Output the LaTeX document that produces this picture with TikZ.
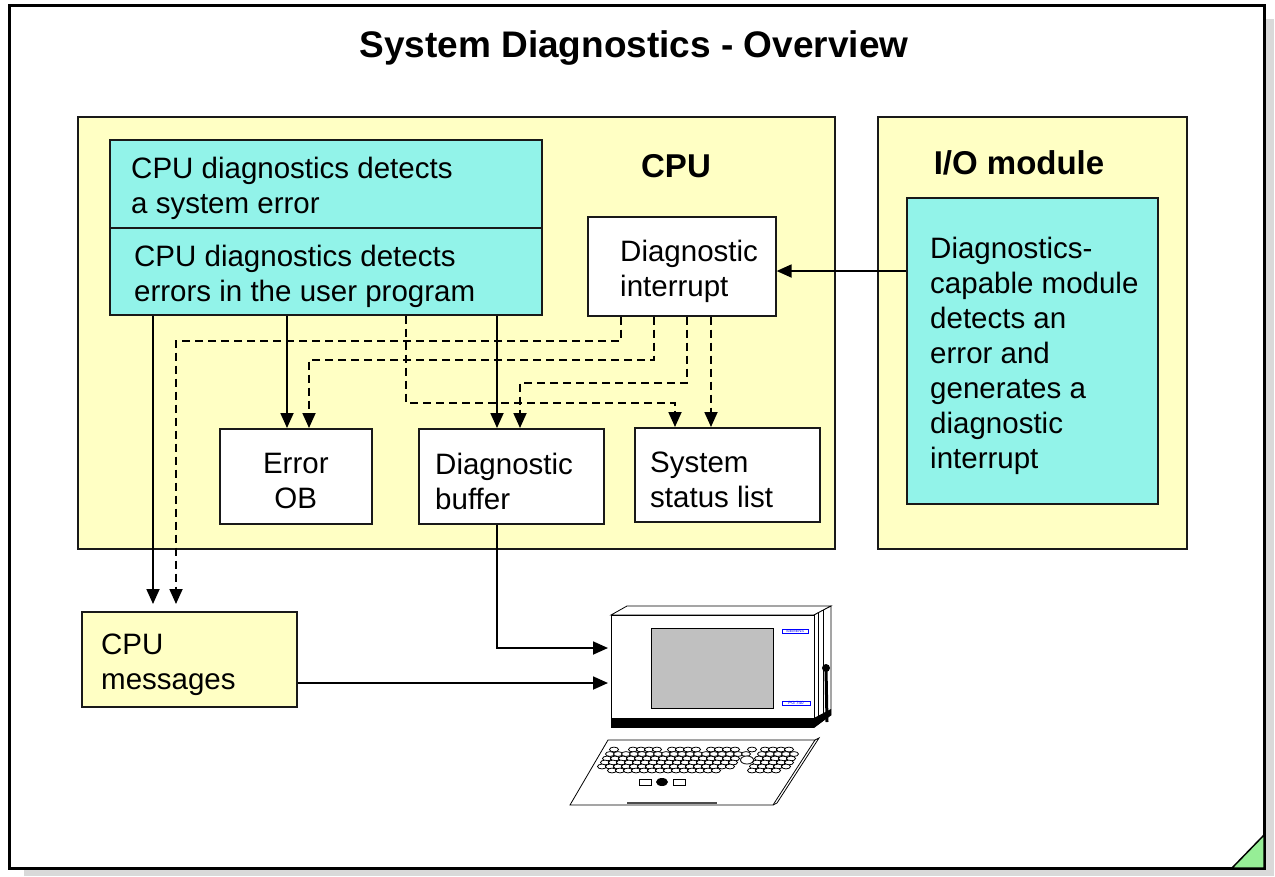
\documentclass[tikz,border=0pt]{standalone}
\usepackage{fontspec}
\setmainfont{Liberation Sans}
\usetikzlibrary{arrows.meta, calc, positioning}

\definecolor{paleyellow}{RGB}{255,255,196}
\definecolor{diagcyan}{RGB}{146,243,233}
\definecolor{shadowgray}{RGB}{217,217,217}
\definecolor{cornergreen}{RGB}{150,238,150}
\definecolor{screengray}{RGB}{192,192,192}

\newcommand{\bodysize}{\fontsize{29.5}{35}\selectfont}

\begin{document}
\begin{tikzpicture}[x=1pt, y=-1pt,
		panel/.style={draw=black!90, line width=1.6pt, fill=paleyellow, anchor=north west, inner sep=0pt},
		blockbox/.style={draw=black!90, line width=1.6pt, anchor=north west, inner sep=0pt},
		boxtext/.style={anchor=west, align=left, inner sep=0pt, font=\bodysize, yshift=-5pt},
		headfont/.style={font=\bfseries\fontsize{33}{38}\selectfont, anchor=base},
		arrow/.style={-{Triangle[width=13pt, length=15pt]}, line width=1.8pt},
		dasharrow/.style={arrow, dash pattern=on 8pt off 5pt},
		keycap/.style={draw, fill=white, line width=0.8pt},
		pgline/.style={line width=0.8pt}
		]
		\useasboundingbox (0,0) rectangle (1275,876);
		\fill[white] (0,0) rectangle (1275,876);
		
		% Page frame with shadow and folded corner
		\fill[shadowgray] (24,19) rectangle (1274,876);
		\draw[line width=3pt, fill=white] (9,5) rectangle (1264,868);
		\draw[line width=1.5pt, fill=cornergreen] (1232,868) -- (1264,835) -- (1264,868) -- cycle;
		
		\node[font=\bfseries\fontsize{37}{44}\selectfont, anchor=base] (title) at (634,57) {System Diagnostics - Overview};
		
		% CPU and I/O module panels
		\node[panel, minimum width=757pt, minimum height=432pt] (cpu) at (77,116) {};
		\node[headfont] (cpuhead) at (676,177) {CPU};
		\node[panel, minimum width=309pt, minimum height=432pt] (io) at (877,116) {};
		\node[headfont] (iohead) at (1019,174) {I/O module};
		
		% Error sources
		\node[blockbox, fill=diagcyan, minimum width=432pt, minimum height=88pt] (syserr) at (109,139) {};
		\node[boxtext] (syserrtxt) at ([xshift=22pt]syserr.west) {CPU diagnostics detects\\a system error};
		\node[blockbox, fill=diagcyan, minimum width=432pt, minimum height=87pt] (progerr) at (109,227) {};
		\node[boxtext] (progerrtxt) at ([xshift=25pt]progerr.west) {CPU diagnostics detects\\errors in the user program};
		\node[blockbox, fill=white, minimum width=188pt, minimum height=99pt] (diagint) at (587,216) {};
		\node[boxtext] (diaginttxt) at ([xshift=33pt]diagint.west) {Diagnostic\\interrupt};
		\node[blockbox, fill=diagcyan, minimum width=251pt, minimum height=306pt] (iodiag) at (906,197) {};
		\node[boxtext] (iodiagtxt) at ([xshift=24pt]iodiag.west) {Diagnostics-\\capable module\\detects an\\error and\\generates a\\diagnostic\\interrupt};
		
		% Targets inside the CPU
		\node[blockbox, fill=white, minimum width=152pt, minimum height=95pt] (errob) at (219,428) {};
		\node[boxtext, anchor=center, align=center] (errobtxt) at (errob.center) {Error\\OB};
		\node[blockbox, fill=white, minimum width=185pt, minimum height=95pt] (buffer) at (418,428) {};
		\node[boxtext] (buffertxt) at ([xshift=17pt]buffer.west) {Diagnostic\\buffer};
		\node[blockbox, fill=white, minimum width=185pt, minimum height=94pt] (ssl) at (634,427) {};
		\node[boxtext] (ssltxt) at ([xshift=16pt]ssl.west) {System\\status list};
		
		\node[blockbox, fill=paleyellow, minimum width=215pt, minimum height=95pt] (cpumsg) at (81,611) {};
		\node[boxtext] (cpumsgtxt) at ([xshift=20pt]cpumsg.west) {CPU\\messages};
		
		% Programming device
		\draw[pgline, fill=white] (611,615) -- (627,606) -- (831,606) -- (814,615) -- cycle;
		\draw[pgline, fill=white] (814,615) -- (831,606) -- (831,715) -- (814,727) -- cycle;
		\draw[line width=0.6pt] (818,613) -- (818,724) (823,610) -- (823,721);
		\fill (826,668) circle (4pt);
		\draw[line width=3pt] (826,668) -- (827,722);
		\node[pgline, draw, fill=white, anchor=north west, inner sep=0pt, minimum width=203pt, minimum height=104pt] (pgfront) at (611,615) {};
		\draw[pgline, fill=screengray] (651,628) rectangle (773,708);
		\fill (611,718) rectangle (814,728);
		\fill (814,718) -- (831,709) -- (831,715) -- (814,728) -- cycle;
		\node[draw=blue, fill=white, text=blue, line width=0.5pt, inner sep=0.6pt, minimum width=26pt, font=\fontsize{4}{4}\selectfont] (brand) at (795,631) {SIEMENS};
		\node[draw=blue, fill=white, text=blue, line width=0.5pt, inner sep=0.6pt, minimum width=28pt, font=\fontsize{4.5}{4.5}\selectfont] (model) at (796,703) {PG 740};
		
		% Keyboard
		\draw[pgline, fill=white] (608,740) -- (815,740) -- (773,805) -- (570,805) -- cycle;
		\draw[pgline] (815,740) -- (819,738) -- (777,803) -- (773,805);
		\draw[line width=2pt, black!70] (627,803) -- (717,803);
		\foreach \kx in {614,633,641,649,657,672,680,688,696,711,719,727,735,752,765,773,781,789}
			\draw[keycap] (\kx,749.5) ellipse (4.5pt and 2.4pt);
		\foreach \ky/\xa/\na/\xb/\nb in {754/610/17/762/4, 758.5/607/16/759/4, 762.5/605/16/757/4, 766.5/602/16/754/4, 770.5/612/13/752/3} {
			\foreach \i in {0,...,\na}
				\draw[keycap] (\xa+8*\i,\ky) ellipse (4.5pt and 2.4pt);
			\foreach \i in {0,...,\nb}
				\draw[keycap] (\xb+8*\i,\ky) ellipse (4.5pt and 2.4pt);
		}
		\draw[keycap] (747,760) ellipse (6.5pt and 4pt);
		\draw[pgline] (639,779) rectangle (651,785) (673,779) rectangle (685,785);
		\fill (662,782) ellipse (6pt and 4pt);
		
		% Solid paths
		\draw[arrow, shorten >=7pt] (progerr.south -| 153,0) -- (cpumsg.north -| 153,0);
		\draw[arrow] (progerr.south -| 287,0) -- (errob.north -| 287,0);
		\draw[arrow] (progerr.south -| 497,0) -- (buffer.north -| 497,0);
		\draw[arrow] (iodiag.west |- 0,271) -- (diagint.east |- 0,271);
		\draw[arrow, shorten >=3pt] (buffer.south -| 497,0) |- (pgfront.west |- 0,648);
		\draw[arrow, shorten >=3pt] (cpumsg.east |- 0,683) -- (pgfront.west |- 0,683);
		
		% Dashed paths from the diagnostic interrupt
		\draw[dasharrow, shorten >=7pt] (diagint.south -| 621,0) -- ++(0,24) -| (cpumsg.north -| 176,0);
		\draw[dasharrow] (diagint.south -| 654,0) -- ++(0,43) -| (errob.north -| 309,0);
		\draw[dasharrow] (diagint.south -| 687,0) -- ++(0,66) -| (buffer.north -| 520,0);
		\draw[dasharrow] (diagint.south -| 711,0) -- (ssl.north -| 711,0);
		\draw[dasharrow] (progerr.south -| 406,0) -- ++(0,87) -| (ssl.north -| 675,0);
		
	\end{tikzpicture}
\end{document}
